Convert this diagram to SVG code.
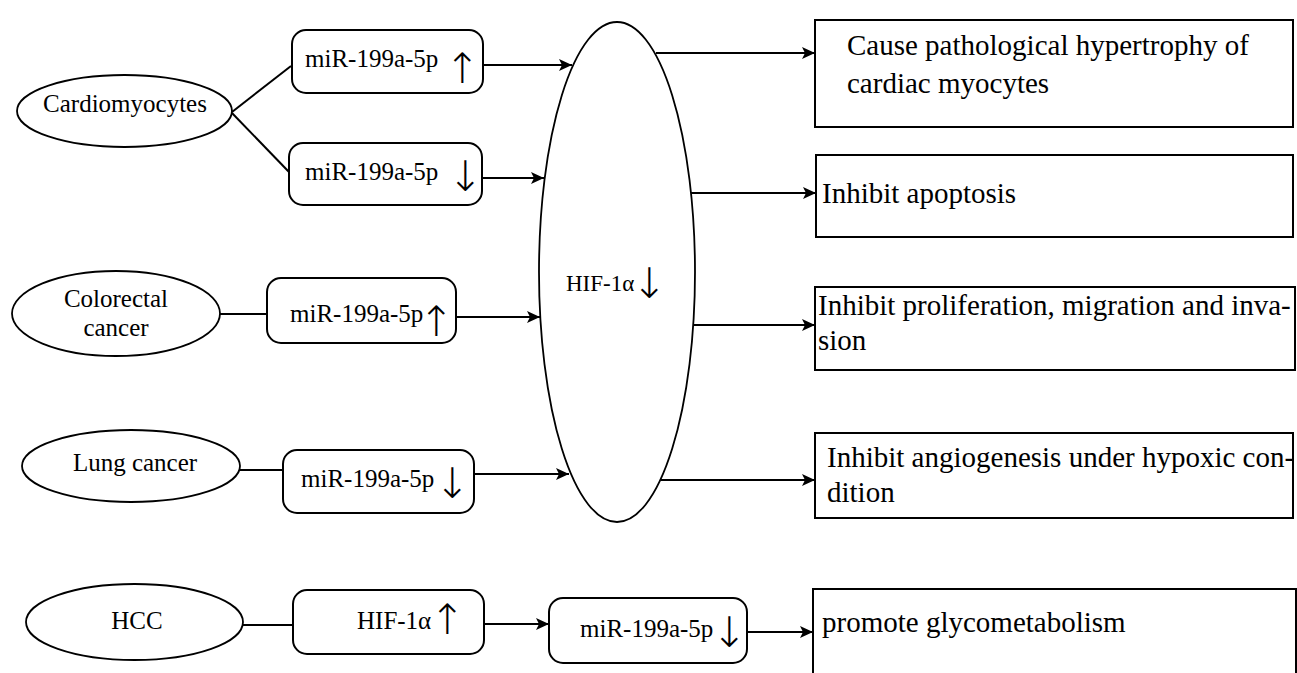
<svg xmlns="http://www.w3.org/2000/svg" width="1297" height="673" viewBox="0 0 1297 673">
<style>
.sh{fill:#fff;stroke:#000;stroke-width:2}
.el{fill:#fff;stroke:#000;stroke-width:1.8}
.t{font-family:"Liberation Serif","Times New Roman",serif;font-size:25px;fill:#000}
.tr{font-family:"Liberation Serif","Times New Roman",serif;font-size:29px;fill:#000}
.ar{font-family:"DejaVu Sans",sans-serif;font-size:42px;font-weight:200;fill:#000}
.c{fill:none;stroke:#000;stroke-width:2}
</style>
<defs>
<marker id="ah" markerUnits="userSpaceOnUse" markerWidth="14" markerHeight="12" refX="13" refY="6" orient="auto">
<path d="M0,0 L13,6 L0,12 L3,6 z" fill="#000"/>
</marker>
</defs>
<rect width="1297" height="673" fill="#fff"/>
<g id="connectors">
<line class="c" x1="232" y1="112" x2="291" y2="66"/>
<line class="c" x1="232" y1="113" x2="289" y2="172"/>
<line class="c" x1="220" y1="314" x2="267" y2="314"/>
<line class="c" x1="240" y1="470" x2="283" y2="470"/>
<line class="c" x1="243" y1="625" x2="293" y2="625"/>
<line class="c" x1="483" y1="65" x2="572" y2="65" marker-end="url(#ah)"/>
<line class="c" x1="482" y1="178" x2="544" y2="178" marker-end="url(#ah)"/>
<line class="c" x1="456" y1="317" x2="540" y2="317" marker-end="url(#ah)"/>
<line class="c" x1="474" y1="474" x2="569" y2="474" marker-end="url(#ah)"/>
<line class="c" x1="656" y1="53" x2="815" y2="53" marker-end="url(#ah)"/>
<line class="c" x1="691" y1="193" x2="816" y2="193" marker-end="url(#ah)"/>
<line class="c" x1="694" y1="325" x2="815" y2="325" marker-end="url(#ah)"/>
<line class="c" x1="661" y1="480" x2="815" y2="480" marker-end="url(#ah)"/>
<line class="c" x1="484" y1="624" x2="549" y2="624" marker-end="url(#ah)"/>
<line class="c" x1="747" y1="632" x2="813" y2="632" marker-end="url(#ah)"/>
</g>
<g id="cardiomyocytes">
<ellipse class="el" cx="124.5" cy="111" rx="107.5" ry="36"/>
<text class="t" x="125" y="112" text-anchor="middle">Cardiomyocytes</text>
</g>
<g id="mir-cardio-up">
<rect class="sh" x="292" y="30" width="191" height="63" rx="14"/>
<text class="t" x="305" y="67">miR-199a-5p<tspan class="ar" x="462" y="83" text-anchor="middle">↑</tspan></text>
</g>
<g id="mir-cardio-down">
<rect class="sh" x="289" y="143" width="193" height="62" rx="14"/>
<text class="t" x="305" y="180">miR-199a-5p<tspan class="ar" x="465" y="191" text-anchor="middle">↓</tspan></text>
</g>
<g id="colorectal">
<ellipse class="el" cx="116" cy="313.5" rx="104" ry="42.5"/>
<text class="t" x="116" y="307" text-anchor="middle">Colorectal</text>
<text class="t" x="116" y="336" text-anchor="middle">cancer</text>
</g>
<g id="mir-colorectal">
<rect class="sh" x="267" y="278" width="189" height="65" rx="14"/>
<text class="t" x="290" y="322">miR-199a-5p<tspan class="ar" x="436" y="336" text-anchor="middle">↑</tspan></text>
</g>
<g id="lung">
<ellipse class="el" cx="131" cy="466" rx="109" ry="36"/>
<text class="t" x="135" y="471" text-anchor="middle">Lung cancer</text>
</g>
<g id="mir-lung">
<rect class="sh" x="283" y="450" width="191" height="63" rx="14"/>
<text class="t" x="301" y="487">miR-199a-5p<tspan class="ar" x="452" y="498" text-anchor="middle">↓</tspan></text>
</g>
<g id="hcc">
<ellipse class="el" cx="134.5" cy="622" rx="108.5" ry="38"/>
<text class="t" x="137" y="629" text-anchor="middle">HCC</text>
</g>
<g id="hif-up">
<rect class="sh" x="293" y="590" width="191" height="64" rx="14"/>
<text class="t" x="357" y="629">HIF-1α<tspan class="ar" x="447" y="634" text-anchor="middle">↑</tspan></text>
</g>
<g id="mir-hcc">
<rect class="sh" x="549" y="598" width="198" height="65" rx="14"/>
<text class="t" x="580" y="637">miR-199a-5p<tspan class="ar" x="729" y="647" text-anchor="middle">↓</tspan></text>
</g>
<g id="hif-down">
<ellipse class="el" cx="617" cy="272" rx="78" ry="250"/>
<text class="t" x="566" y="291" style="font-size:23px">HIF-1α<tspan class="ar" x="649" y="298" text-anchor="middle">↓</tspan></text>
</g>
<g id="out-hypertrophy">
<rect class="sh" x="815" y="20" width="478" height="107"/>
<text class="tr" x="847" y="55">Cause pathological hypertrophy of</text>
<text class="tr" x="847" y="93">cardiac myocytes</text>
</g>
<g id="out-apoptosis">
<rect class="sh" x="816" y="155" width="477" height="82"/>
<text class="tr" x="822" y="203">Inhibit apoptosis</text>
</g>
<g id="out-proliferation">
<rect class="sh" x="815" y="287" width="480" height="83"/>
<text class="tr" x="818" y="315">Inhibit proliferation, migration and inva-</text>
<text class="tr" x="818" y="350">sion</text>
</g>
<g id="out-angiogenesis">
<rect class="sh" x="815" y="433" width="478" height="85"/>
<text class="tr" x="827" y="467">Inhibit angiogenesis under hypoxic con-</text>
<text class="tr" x="827" y="502">dition</text>
</g>
<g id="out-glycometabolism">
<rect class="sh" x="813" y="589" width="483" height="110"/>
<text class="tr" x="822" y="632">promote glycometabolism</text>
</g>
</svg>
